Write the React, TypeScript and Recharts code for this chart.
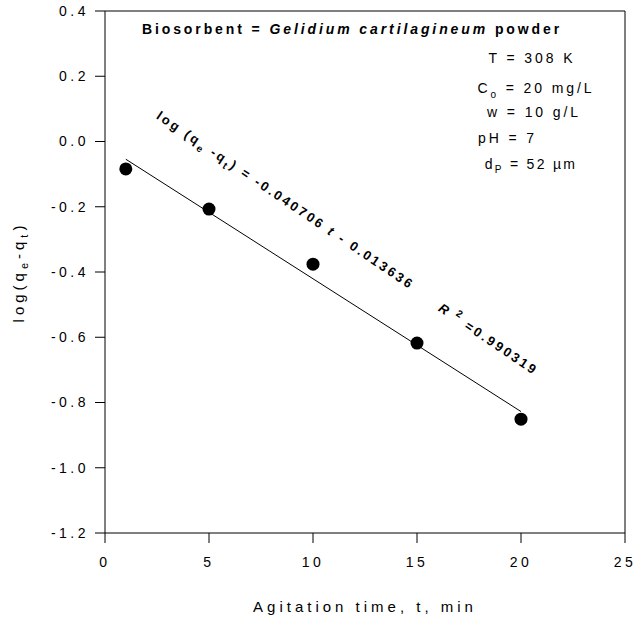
import React from 'react';
import {
  ComposedChart,
  Line,
  Scatter,
  XAxis,
  YAxis,
  ReferenceLine,
} from 'recharts';

// agitation time (min) and measured log(qe - qt)
const times = [1, 5, 10, 15, 20];
const logQ = [-0.084, -0.207, -0.376, -0.618, -0.851];

const xTicks = [0, 5, 10, 15, 20, 25];
const yTicks = [0.4, 0.2, 0.0, -0.2, -0.4, -0.6, -0.8, -1.0, -1.2];

// published linear fit
const FIT_SLOPE = -0.040706;
const FIT_INTERCEPT = -0.013636;
const fitRange = [1, 20];

const points = times.map((t, i) => ({ t, y: logQ[i] }));
const fitLine = fitRange.map((t) => ({ t, y: FIT_SLOPE * t + FIT_INTERCEPT }));

const W = 636;
const H = 620;
const FONT = "'Liberation Sans', Arial, sans-serif";

function Annotations() {
  const sub = { fontSize: 10 };
  return (
    <svg
      width={W}
      height={H}
      style={{ position: 'absolute', left: 0, top: 0, pointerEvents: 'none' }}
      fontFamily={FONT}
      fill="#000"
    >
      <text x={352} y={34} textAnchor="middle" fontSize={14} fontWeight="bold" letterSpacing={2.9}>
        Biosorbent = <tspan fontStyle="italic">Gelidium cartilagineum</tspan> powder
      </text>
      <g fontSize={14} letterSpacing={2.9}>
        <text x={532} y={63} textAnchor="middle">T = 308 K</text>
        <text x={536} y={93} textAnchor="middle">
          C<tspan {...sub} dy={5}>o</tspan><tspan dy={-5}> = 20 mg/L</tspan>
        </text>
        <text x={534} y={117} textAnchor="middle">w = 10 g/L</text>
        <text x={478} y={143}>pH = 7</text>
        <text x={531} y={169} textAnchor="middle" letterSpacing={2.3}>
          d<tspan {...sub} dy={4}>P</tspan><tspan dy={-4}> = 52 µm</tspan>
        </text>
      </g>
      <g fontSize={13} fontWeight="bold" letterSpacing={2.6}>
        <text x={283} y={204} textAnchor="middle" transform="rotate(34 283 204)">
          log (q<tspan {...sub} dy={4}>e</tspan><tspan dy={-4}> -q</tspan>
          <tspan {...sub} dy={4}>t</tspan><tspan dy={-4}>) = -0.040706 </tspan>
          <tspan fontStyle="italic">t</tspan> - 0.013636
        </text>
        <text x={486} y={343} textAnchor="middle" transform="rotate(34 486 343)">
          <tspan fontStyle="italic">R</tspan>
          <tspan {...sub} dy={-6}> 2</tspan>
          <tspan dy={6}> =0.990319</tspan>
        </text>
      </g>
      <text x={365} y={612} textAnchor="middle" fontSize={15} letterSpacing={4}>
        Agitation time, t, min
      </text>
      <text x={24} y={272} textAnchor="middle" fontSize={15} letterSpacing={4} transform="rotate(-90 24 272)">
        log(q<tspan fontSize={11} dy={4}>e</tspan><tspan dy={-4}>-q</tspan>
        <tspan fontSize={11} dy={4}>t</tspan><tspan dy={-4}>)</tspan>
      </text>
    </svg>
  );
}

export default function App() {
  const tick = { fontSize: 14, fill: '#000', fontFamily: FONT, letterSpacing: 3.5 };
  return (
    <div style={{ position: 'absolute', left: 0, top: 0, width: W, height: H, background: '#fff' }}>
      <ComposedChart width={W} height={H} margin={{ top: 11, right: 11, left: 0, bottom: 0 }}>
        <XAxis
          dataKey="t"
          type="number"
          domain={[0, 25]}
          ticks={xTicks}
          tickSize={10}
          tickMargin={14}
          height={87}
          tick={tick}
          stroke="#000"
          tickLine={{ stroke: '#000' }}
          allowDataOverflow
        />
        <YAxis
          type="number"
          domain={[-1.2, 0.4]}
          ticks={yTicks}
          tickFormatter={(v: number) => v.toFixed(1)}
          tickSize={10}
          tickMargin={6}
          width={105}
          tick={tick}
          stroke="#000"
          tickLine={{ stroke: '#000' }}
          allowDataOverflow
        />
        <ReferenceLine x={25} stroke="#000" strokeWidth={1} />
        <ReferenceLine y={0.4} stroke="#000" strokeWidth={1} />
        <Line
          data={fitLine}
          dataKey="y"
          stroke="#000"
          strokeWidth={1}
          dot={false}
          isAnimationActive={false}
        />
        <Scatter
          data={points}
          dataKey="y"
          fill="#000"
          shape={(p: any) => <circle cx={p.cx} cy={p.cy} r={6.5} fill="#000" />}
          isAnimationActive={false}
        />
      </ComposedChart>
      <Annotations />
    </div>
  );
}
